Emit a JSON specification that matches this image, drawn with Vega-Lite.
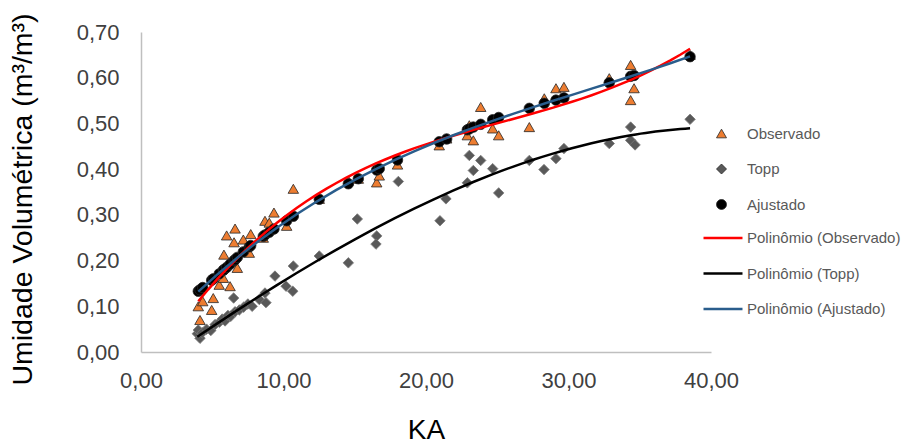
{
  "$schema": "https://vega.github.io/schema/vega-lite/v6.json",
  "width": 570,
  "height": 320,
  "autosize": "none",
  "padding": {"left": 141, "top": 32, "right": 204, "bottom": 94},
  "background": "#ffffff",
  "config": {
    "view": {"stroke": null},
    "font": "Liberation Sans",
    "axis": {
      "grid": false, "ticks": false, "domainColor": "#BFBFBF", "domainWidth": 1.5,
      "labelFont": "Liberation Sans", "labelFontSize": 22, "labelColor": "#404040",
      "labelFlush": false, "labelOverlap": false, "labelBound": false,
      "titleFont": "Liberation Sans", "titleFontWeight": "normal", "titleColor": "#000000"
    },
    "legend": {"labelFont": "Liberation Sans", "labelFontSize": 15, "labelColor": "#595959", "title": null, "padding": 0}
  },
  "data": {
    "values": [
      {"KA": 4.02, "valor": 0.100, "serie": "Observado", "ajuste": "Polinômio (Observado)"},
      {"KA": 4.14, "valor": 0.070, "serie": "Observado", "ajuste": "Polinômio (Observado)"},
      {"KA": 4.33, "valor": 0.111, "serie": "Observado", "ajuste": "Polinômio (Observado)"},
      {"KA": 4.96, "valor": 0.092, "serie": "Observado", "ajuste": "Polinômio (Observado)"},
      {"KA": 5.07, "valor": 0.118, "serie": "Observado", "ajuste": "Polinômio (Observado)"},
      {"KA": 5.49, "valor": 0.147, "serie": "Observado", "ajuste": "Polinômio (Observado)"},
      {"KA": 5.78, "valor": 0.162, "serie": "Observado", "ajuste": "Polinômio (Observado)"},
      {"KA": 5.82, "valor": 0.213, "serie": "Observado", "ajuste": "Polinômio (Observado)"},
      {"KA": 6.01, "valor": 0.255, "serie": "Observado", "ajuste": "Polinômio (Observado)"},
      {"KA": 6.25, "valor": 0.144, "serie": "Observado", "ajuste": "Polinômio (Observado)"},
      {"KA": 6.53, "valor": 0.240, "serie": "Observado", "ajuste": "Polinômio (Observado)"},
      {"KA": 6.60, "valor": 0.270, "serie": "Observado", "ajuste": "Polinômio (Observado)"},
      {"KA": 6.76, "valor": 0.184, "serie": "Observado", "ajuste": "Polinômio (Observado)"},
      {"KA": 7.18, "valor": 0.246, "serie": "Observado", "ajuste": "Polinômio (Observado)"},
      {"KA": 7.60, "valor": 0.217, "serie": "Observado", "ajuste": "Polinômio (Observado)"},
      {"KA": 7.70, "valor": 0.258, "serie": "Observado", "ajuste": "Polinômio (Observado)"},
      {"KA": 8.58, "valor": 0.250, "serie": "Observado", "ajuste": "Polinômio (Observado)"},
      {"KA": 8.70, "valor": 0.287, "serie": "Observado", "ajuste": "Polinômio (Observado)"},
      {"KA": 9.00, "valor": 0.283, "serie": "Observado", "ajuste": "Polinômio (Observado)"},
      {"KA": 9.33, "valor": 0.305, "serie": "Observado", "ajuste": "Polinômio (Observado)"},
      {"KA": 10.22, "valor": 0.276, "serie": "Observado", "ajuste": "Polinômio (Observado)"},
      {"KA": 10.69, "valor": 0.357, "serie": "Observado", "ajuste": "Polinômio (Observado)"},
      {"KA": 12.51, "valor": 0.335, "serie": "Observado", "ajuste": "Polinômio (Observado)"},
      {"KA": 14.55, "valor": 0.375, "serie": "Observado", "ajuste": "Polinômio (Observado)"},
      {"KA": 15.25, "valor": 0.379, "serie": "Observado", "ajuste": "Polinômio (Observado)"},
      {"KA": 16.54, "valor": 0.371, "serie": "Observado", "ajuste": "Polinômio (Observado)"},
      {"KA": 16.72, "valor": 0.386, "serie": "Observado", "ajuste": "Polinômio (Observado)"},
      {"KA": 18.00, "valor": 0.410, "serie": "Observado", "ajuste": "Polinômio (Observado)"},
      {"KA": 20.93, "valor": 0.452, "serie": "Observado", "ajuste": "Polinômio (Observado)"},
      {"KA": 21.45, "valor": 0.467, "serie": "Observado", "ajuste": "Polinômio (Observado)"},
      {"KA": 22.90, "valor": 0.474, "serie": "Observado", "ajuste": "Polinômio (Observado)"},
      {"KA": 23.04, "valor": 0.496, "serie": "Observado", "ajuste": "Polinômio (Observado)"},
      {"KA": 23.32, "valor": 0.463, "serie": "Observado", "ajuste": "Polinômio (Observado)"},
      {"KA": 23.84, "valor": 0.536, "serie": "Observado", "ajuste": "Polinômio (Observado)"},
      {"KA": 24.68, "valor": 0.489, "serie": "Observado", "ajuste": "Polinômio (Observado)"},
      {"KA": 25.10, "valor": 0.474, "serie": "Observado", "ajuste": "Polinômio (Observado)"},
      {"KA": 27.25, "valor": 0.492, "serie": "Observado", "ajuste": "Polinômio (Observado)"},
      {"KA": 28.30, "valor": 0.555, "serie": "Observado", "ajuste": "Polinômio (Observado)"},
      {"KA": 29.12, "valor": 0.577, "serie": "Observado", "ajuste": "Polinômio (Observado)"},
      {"KA": 29.68, "valor": 0.580, "serie": "Observado", "ajuste": "Polinômio (Observado)"},
      {"KA": 32.86, "valor": 0.599, "serie": "Observado", "ajuste": "Polinômio (Observado)"},
      {"KA": 34.36, "valor": 0.628, "serie": "Observado", "ajuste": "Polinômio (Observado)"},
      {"KA": 34.60, "valor": 0.577, "serie": "Observado", "ajuste": "Polinômio (Observado)"},
      {"KA": 34.36, "valor": 0.551, "serie": "Observado", "ajuste": "Polinômio (Observado)"},
      {"KA": 38.53, "valor": 0.650, "serie": "Observado", "ajuste": "Polinômio (Observado)"},

      {"KA": 3.95, "valor": 0.040, "serie": "Topp", "ajuste": "Polinômio (Topp)"},
      {"KA": 4.02, "valor": 0.048, "serie": "Topp", "ajuste": "Polinômio (Topp)"},
      {"KA": 4.14, "valor": 0.030, "serie": "Topp", "ajuste": "Polinômio (Topp)"},
      {"KA": 4.30, "valor": 0.042, "serie": "Topp", "ajuste": "Polinômio (Topp)"},
      {"KA": 4.60, "valor": 0.050, "serie": "Topp", "ajuste": "Polinômio (Topp)"},
      {"KA": 4.90, "valor": 0.047, "serie": "Topp", "ajuste": "Polinômio (Topp)"},
      {"KA": 5.20, "valor": 0.060, "serie": "Topp", "ajuste": "Polinômio (Topp)"},
      {"KA": 5.50, "valor": 0.065, "serie": "Topp", "ajuste": "Polinômio (Topp)"},
      {"KA": 5.70, "valor": 0.072, "serie": "Topp", "ajuste": "Polinômio (Topp)"},
      {"KA": 5.90, "valor": 0.068, "serie": "Topp", "ajuste": "Polinômio (Topp)"},
      {"KA": 6.10, "valor": 0.080, "serie": "Topp", "ajuste": "Polinômio (Topp)"},
      {"KA": 6.30, "valor": 0.078, "serie": "Topp", "ajuste": "Polinômio (Topp)"},
      {"KA": 6.50, "valor": 0.118, "serie": "Topp", "ajuste": "Polinômio (Topp)"},
      {"KA": 6.60, "valor": 0.088, "serie": "Topp", "ajuste": "Polinômio (Topp)"},
      {"KA": 6.90, "valor": 0.092, "serie": "Topp", "ajuste": "Polinômio (Topp)"},
      {"KA": 7.20, "valor": 0.098, "serie": "Topp", "ajuste": "Polinômio (Topp)"},
      {"KA": 7.50, "valor": 0.105, "serie": "Topp", "ajuste": "Polinômio (Topp)"},
      {"KA": 7.80, "valor": 0.100, "serie": "Topp", "ajuste": "Polinômio (Topp)"},
      {"KA": 8.30, "valor": 0.115, "serie": "Topp", "ajuste": "Polinômio (Topp)"},
      {"KA": 8.70, "valor": 0.129, "serie": "Topp", "ajuste": "Polinômio (Topp)"},
      {"KA": 8.77, "valor": 0.108, "serie": "Topp", "ajuste": "Polinômio (Topp)"},
      {"KA": 9.40, "valor": 0.166, "serie": "Topp", "ajuste": "Polinômio (Topp)"},
      {"KA": 10.18, "valor": 0.144, "serie": "Topp", "ajuste": "Polinômio (Topp)"},
      {"KA": 10.65, "valor": 0.133, "serie": "Topp", "ajuste": "Polinômio (Topp)"},
      {"KA": 10.69, "valor": 0.188, "serie": "Topp", "ajuste": "Polinômio (Topp)"},
      {"KA": 12.51, "valor": 0.210, "serie": "Topp", "ajuste": "Polinômio (Topp)"},
      {"KA": 14.55, "valor": 0.195, "serie": "Topp", "ajuste": "Polinômio (Topp)"},
      {"KA": 15.18, "valor": 0.291, "serie": "Topp", "ajuste": "Polinômio (Topp)"},
      {"KA": 16.54, "valor": 0.254, "serie": "Topp", "ajuste": "Polinômio (Topp)"},
      {"KA": 16.49, "valor": 0.236, "serie": "Topp", "ajuste": "Polinômio (Topp)"},
      {"KA": 18.06, "valor": 0.373, "serie": "Topp", "ajuste": "Polinômio (Topp)"},
      {"KA": 20.98, "valor": 0.287, "serie": "Topp", "ajuste": "Polinômio (Topp)"},
      {"KA": 21.40, "valor": 0.335, "serie": "Topp", "ajuste": "Polinômio (Topp)"},
      {"KA": 22.90, "valor": 0.370, "serie": "Topp", "ajuste": "Polinômio (Topp)"},
      {"KA": 23.04, "valor": 0.430, "serie": "Topp", "ajuste": "Polinômio (Topp)"},
      {"KA": 23.32, "valor": 0.397, "serie": "Topp", "ajuste": "Polinômio (Topp)"},
      {"KA": 23.84, "valor": 0.419, "serie": "Topp", "ajuste": "Polinômio (Topp)"},
      {"KA": 24.68, "valor": 0.401, "serie": "Topp", "ajuste": "Polinômio (Topp)"},
      {"KA": 25.10, "valor": 0.348, "serie": "Topp", "ajuste": "Polinômio (Topp)"},
      {"KA": 27.25, "valor": 0.419, "serie": "Topp", "ajuste": "Polinômio (Topp)"},
      {"KA": 28.28, "valor": 0.399, "serie": "Topp", "ajuste": "Polinômio (Topp)"},
      {"KA": 29.12, "valor": 0.423, "serie": "Topp", "ajuste": "Polinômio (Topp)"},
      {"KA": 29.68, "valor": 0.445, "serie": "Topp", "ajuste": "Polinômio (Topp)"},
      {"KA": 32.86, "valor": 0.456, "serie": "Topp", "ajuste": "Polinômio (Topp)"},
      {"KA": 34.36, "valor": 0.492, "serie": "Topp", "ajuste": "Polinômio (Topp)"},
      {"KA": 34.36, "valor": 0.463, "serie": "Topp", "ajuste": "Polinômio (Topp)"},
      {"KA": 34.67, "valor": 0.453, "serie": "Topp", "ajuste": "Polinômio (Topp)"},
      {"KA": 38.53, "valor": 0.509, "serie": "Topp", "ajuste": "Polinômio (Topp)"},

      {"KA": 4.02, "valor": 0.133, "serie": "Ajustado", "ajuste": "Polinômio (Ajustado)"},
      {"KA": 4.14, "valor": 0.136, "serie": "Ajustado", "ajuste": "Polinômio (Ajustado)"},
      {"KA": 4.33, "valor": 0.141, "serie": "Ajustado", "ajuste": "Polinômio (Ajustado)"},
      {"KA": 4.96, "valor": 0.157, "serie": "Ajustado", "ajuste": "Polinômio (Ajustado)"},
      {"KA": 5.07, "valor": 0.160, "serie": "Ajustado", "ajuste": "Polinômio (Ajustado)"},
      {"KA": 5.49, "valor": 0.171, "serie": "Ajustado", "ajuste": "Polinômio (Ajustado)"},
      {"KA": 5.78, "valor": 0.179, "serie": "Ajustado", "ajuste": "Polinômio (Ajustado)"},
      {"KA": 5.82, "valor": 0.180, "serie": "Ajustado", "ajuste": "Polinômio (Ajustado)"},
      {"KA": 6.01, "valor": 0.185, "serie": "Ajustado", "ajuste": "Polinômio (Ajustado)"},
      {"KA": 6.25, "valor": 0.192, "serie": "Ajustado", "ajuste": "Polinômio (Ajustado)"},
      {"KA": 6.53, "valor": 0.200, "serie": "Ajustado", "ajuste": "Polinômio (Ajustado)"},
      {"KA": 6.60, "valor": 0.202, "serie": "Ajustado", "ajuste": "Polinômio (Ajustado)"},
      {"KA": 6.76, "valor": 0.207, "serie": "Ajustado", "ajuste": "Polinômio (Ajustado)"},
      {"KA": 7.18, "valor": 0.219, "serie": "Ajustado", "ajuste": "Polinômio (Ajustado)"},
      {"KA": 7.60, "valor": 0.230, "serie": "Ajustado", "ajuste": "Polinômio (Ajustado)"},
      {"KA": 7.70, "valor": 0.233, "serie": "Ajustado", "ajuste": "Polinômio (Ajustado)"},
      {"KA": 8.58, "valor": 0.253, "serie": "Ajustado", "ajuste": "Polinômio (Ajustado)"},
      {"KA": 8.70, "valor": 0.256, "serie": "Ajustado", "ajuste": "Polinômio (Ajustado)"},
      {"KA": 9.00, "valor": 0.262, "serie": "Ajustado", "ajuste": "Polinômio (Ajustado)"},
      {"KA": 9.33, "valor": 0.269, "serie": "Ajustado", "ajuste": "Polinômio (Ajustado)"},
      {"KA": 10.22, "valor": 0.287, "serie": "Ajustado", "ajuste": "Polinômio (Ajustado)"},
      {"KA": 10.69, "valor": 0.297, "serie": "Ajustado", "ajuste": "Polinômio (Ajustado)"},
      {"KA": 12.51, "valor": 0.334, "serie": "Ajustado", "ajuste": "Polinômio (Ajustado)"},
      {"KA": 14.55, "valor": 0.368, "serie": "Ajustado", "ajuste": "Polinômio (Ajustado)"},
      {"KA": 15.25, "valor": 0.379, "serie": "Ajustado", "ajuste": "Polinômio (Ajustado)"},
      {"KA": 16.54, "valor": 0.398, "serie": "Ajustado", "ajuste": "Polinômio (Ajustado)"},
      {"KA": 16.72, "valor": 0.401, "serie": "Ajustado", "ajuste": "Polinômio (Ajustado)"},
      {"KA": 18.00, "valor": 0.420, "serie": "Ajustado", "ajuste": "Polinômio (Ajustado)"},
      {"KA": 20.93, "valor": 0.460, "serie": "Ajustado", "ajuste": "Polinômio (Ajustado)"},
      {"KA": 21.45, "valor": 0.466, "serie": "Ajustado", "ajuste": "Polinômio (Ajustado)"},
      {"KA": 22.90, "valor": 0.486, "serie": "Ajustado", "ajuste": "Polinômio (Ajustado)"},
      {"KA": 23.04, "valor": 0.488, "serie": "Ajustado", "ajuste": "Polinômio (Ajustado)"},
      {"KA": 23.32, "valor": 0.492, "serie": "Ajustado", "ajuste": "Polinômio (Ajustado)"},
      {"KA": 23.84, "valor": 0.498, "serie": "Ajustado", "ajuste": "Polinômio (Ajustado)"},
      {"KA": 24.68, "valor": 0.508, "serie": "Ajustado", "ajuste": "Polinômio (Ajustado)"},
      {"KA": 25.10, "valor": 0.513, "serie": "Ajustado", "ajuste": "Polinômio (Ajustado)"},
      {"KA": 27.25, "valor": 0.533, "serie": "Ajustado", "ajuste": "Polinômio (Ajustado)"},
      {"KA": 28.30, "valor": 0.544, "serie": "Ajustado", "ajuste": "Polinômio (Ajustado)"},
      {"KA": 29.12, "valor": 0.551, "serie": "Ajustado", "ajuste": "Polinômio (Ajustado)"},
      {"KA": 29.68, "valor": 0.556, "serie": "Ajustado", "ajuste": "Polinômio (Ajustado)"},
      {"KA": 32.86, "valor": 0.589, "serie": "Ajustado", "ajuste": "Polinômio (Ajustado)"},
      {"KA": 34.36, "valor": 0.603, "serie": "Ajustado", "ajuste": "Polinômio (Ajustado)"},
      {"KA": 34.60, "valor": 0.605, "serie": "Ajustado", "ajuste": "Polinômio (Ajustado)"},
      {"KA": 38.53, "valor": 0.646, "serie": "Ajustado", "ajuste": "Polinômio (Ajustado)"}
    ]
  },
  "layer": [
    {
      "mark": {"type": "point", "filled": true, "size": 110, "opacity": 1, "strokeWidth": 0.8},
      "encoding": {
        "x": {
          "field": "KA", "type": "quantitative",
          "scale": {"domain": [0, 40], "nice": false},
          "axis": {
            "title": "KA", "values": [0, 10, 20, 30, 40],
            "labelExpr": "replace(format(datum.value, '.2f'), '.', ',')",
            "labelPadding": 18, "titleFontSize": 28, "titlePadding": 25
          }
        },
        "y": {
          "field": "valor", "type": "quantitative",
          "scale": {"domain": [0, 0.7], "nice": false},
          "axis": {
            "title": "Umidade Volumétrica (m³/m³)",
            "values": [0, 0.1, 0.2, 0.3, 0.4, 0.5, 0.6, 0.7],
            "labelExpr": "replace(format(datum.value, '.2f'), '.', ',')",
            "labelPadding": 22, "titleFontSize": 28.5, "titlePadding": 39, "titleY": 167
          }
        },
        "fill": {
          "field": "serie", "type": "nominal",
          "scale": {"domain": ["Observado", "Topp", "Ajustado"], "range": ["#ED7D31", "#595959", "#000000"]},
          "legend": {
            "orient": "none", "legendX": 573, "legendY": 94, "rowPadding": 19.5, "labelOffset": 18,
            "symbolStrokeColor": "#262626", "symbolStrokeWidth": 0.8, "symbolSize": 100
          }
        },
        "shape": {
          "field": "serie", "type": "nominal",
          "scale": {"domain": ["Observado", "Topp", "Ajustado"], "range": ["triangle-up", "diamond", "circle"]}
        },
        "stroke": {"condition": {"test": "datum.serie === 'Topp'", "value": "#7a7a7a"}, "value": "#262626"}
      }
    },
    {
      "transform": [{"regression": "valor", "on": "KA", "groupby": ["ajuste"], "method": "poly", "order": 3}],
      "mark": {"type": "line", "strokeWidth": 2.5},
      "encoding": {
        "x": {"field": "KA", "type": "quantitative"},
        "y": {"field": "valor", "type": "quantitative"},
        "stroke": {
          "field": "ajuste", "type": "nominal",
          "scale": {"domain": ["Polinômio (Observado)", "Polinômio (Topp)", "Polinômio (Ajustado)"], "range": ["#FF0000", "#000000", "#2A5D8C"]},
          "legend": {
            "orient": "none", "legendX": 571, "legendY": 195, "rowPadding": 16.5, "labelOffset": 13,
            "symbolType": "M-2,0H2", "symbolSize": 380, "symbolStrokeWidth": 2.5
          }
        }
      }
    }
  ]
}
